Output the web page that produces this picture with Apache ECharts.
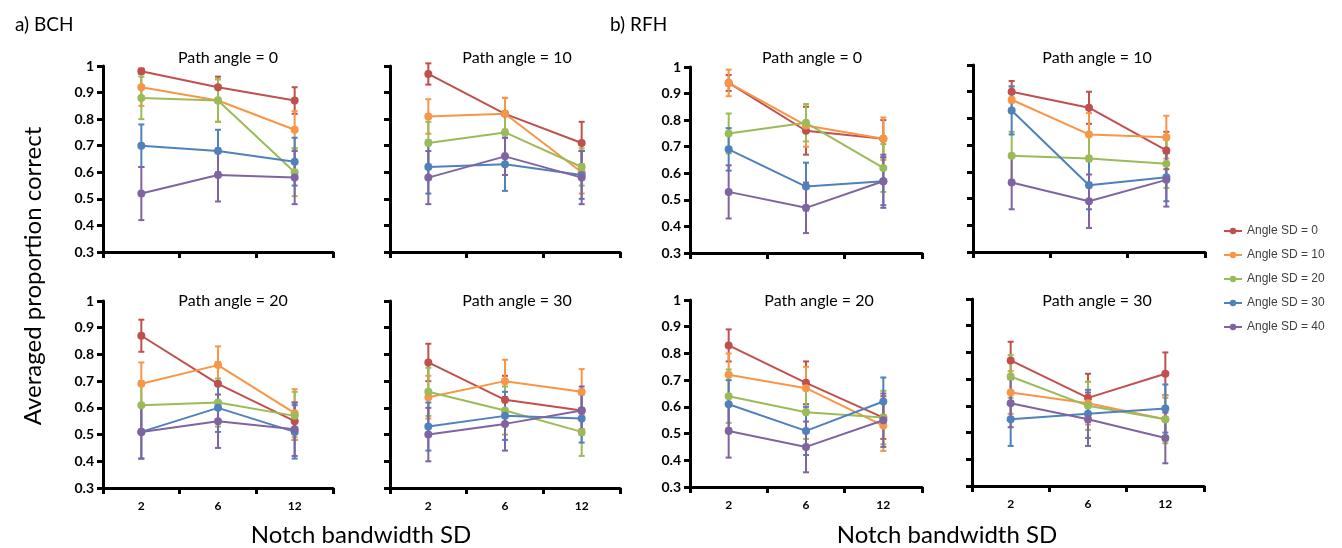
<!DOCTYPE html>
<html>
<head>
<meta charset="utf-8">
<title>Averaged proportion correct</title>
<script src="https://cdn.jsdelivr.net/npm/echarts@6/dist/echarts.min.js"></script>
<style>
  html, body { margin: 0; padding: 0; background: #fff; }
  #chart { width: 1342px; height: 548px; }
</style>
</head>
<body>
<div id="chart"></div>
<script>
// notch bandwidth SD categories and series
const xCats = ['2', '6', '12'];
const seriesNames = ['Angle SD = 0', 'Angle SD = 10', 'Angle SD = 20', 'Angle SD = 30', 'Angle SD = 40'];
const colors = ['#C0504D', '#F79646', '#9BBB59', '#4F81BD', '#8064A2'];

// BCH, path angle = 0 / 10 / 20 / 30  (one row per Angle SD)
const bch0Mean = [[0.98, 0.92, 0.87], [0.92, 0.87, 0.76], [0.88, 0.87, 0.60], [0.70, 0.68, 0.64], [0.52, 0.59, 0.58]];
const bch0Err = [[0.01, 0.04, 0.05], [0.07, 0.08, 0.07], [0.08, 0.08, 0.09], [0.08, 0.08, 0.09], [0.10, 0.10, 0.10]];
const bch10Mean = [[0.97, 0.82, 0.71], [0.81, 0.82, 0.60], [0.71, 0.75, 0.62], [0.62, 0.63, 0.59], [0.58, 0.66, 0.58]];
const bch10Err = [[0.04, 0.06, 0.08], [0.065, 0.06, 0.08], [0.08, 0.08, 0.07], [0.10, 0.10, 0.09], [0.10, 0.07, 0.10]];
const bch20Mean = [[0.87, 0.69, 0.55], [0.69, 0.76, 0.58], [0.61, 0.62, 0.57], [0.51, 0.60, 0.51], [0.51, 0.55, 0.52]];
const bch20Err = [[0.06, 0.08, 0.07], [0.08, 0.07, 0.09], [0.09, 0.09, 0.09], [0.10, 0.09, 0.10], [0.10, 0.10, 0.10]];
const bch30Mean = [[0.77, 0.63, 0.59], [0.64, 0.70, 0.66], [0.66, 0.59, 0.51], [0.53, 0.57, 0.56], [0.50, 0.54, 0.59]];
const bch30Err = [[0.07, 0.09, 0.07], [0.08, 0.08, 0.085], [0.09, 0.09, 0.09], [0.09, 0.09, 0.09], [0.10, 0.10, 0.09]];

// RFH, path angle = 0 / 10 / 20 / 30
const rfh0Mean = [[0.94, 0.76, 0.73], [0.94, 0.78, 0.73], [0.75, 0.79, 0.62], [0.69, 0.55, 0.57], [0.53, 0.47, 0.57]];
const rfh0Err = [[0.03, 0.09, 0.07], [0.05, 0.08, 0.08], [0.075, 0.07, 0.09], [0.08, 0.09, 0.09], [0.10, 0.095, 0.10]];
const rfh10Mean = [[0.90, 0.84, 0.68], [0.87, 0.74, 0.73], [0.66, 0.65, 0.63], [0.83, 0.55, 0.58], [0.56, 0.49, 0.57]];
const rfh10Err = [[0.04, 0.06, 0.07], [0.05, 0.08, 0.08], [0.09, 0.09, 0.09], [0.09, 0.09, 0.09], [0.10, 0.10, 0.10]];
const rfh20Mean = [[0.83, 0.69, 0.56], [0.72, 0.67, 0.53], [0.64, 0.58, 0.56], [0.61, 0.51, 0.62], [0.51, 0.45, 0.55]];
const rfh20Err = [[0.06, 0.08, 0.08], [0.08, 0.08, 0.095], [0.10, 0.10, 0.10], [0.09, 0.09, 0.09], [0.10, 0.095, 0.10]];
const rfh30Mean = [[0.77, 0.63, 0.72], [0.65, 0.61, 0.55], [0.71, 0.60, 0.55], [0.55, 0.57, 0.59], [0.61, 0.55, 0.48]];
const rfh30Err = [[0.07, 0.09, 0.08], [0.08, 0.08, 0.08], [0.08, 0.09, 0.09], [0.10, 0.09, 0.09], [0.09, 0.10, 0.095]];

const panelTitles = ['Path angle = 0', 'Path angle = 10', 'Path angle = 20', 'Path angle = 30',
                     'Path angle = 0', 'Path angle = 10', 'Path angle = 20', 'Path angle = 30'];

const panels = [
  { mean: bch0Mean, err: bch0Err, grid: { left: 103, top: 66, width: 230, height: 186 }, titleX: 223, titleY: 45, yLabels: true, xLabels: false },
  { mean: bch10Mean, err: bch10Err, grid: { left: 390, top: 66, width: 230, height: 186 }, titleX: 512, titleY: 45, yLabels: false, xLabels: false },
  { mean: bch20Mean, err: bch20Err, grid: { left: 103, top: 301, width: 230, height: 187 }, titleX: 228, titleY: 288, yLabels: true, xLabels: true },
  { mean: bch30Mean, err: bch30Err, grid: { left: 390, top: 301, width: 230, height: 187 }, titleX: 512, titleY: 288, yLabels: false, xLabels: true },
  { mean: rfh0Mean, err: rfh0Err, grid: { left: 690, top: 67, width: 232, height: 186 }, titleX: 807, titleY: 45, yLabels: true, xLabels: false },
  { mean: rfh10Mean, err: rfh10Err, grid: { left: 973, top: 65, width: 232, height: 187 }, titleX: 1092, titleY: 45, yLabels: false, xLabels: false },
  { mean: rfh20Mean, err: rfh20Err, grid: { left: 690, top: 300, width: 232, height: 187 }, titleX: 814, titleY: 288, yLabels: true, xLabels: true },
  { mean: rfh30Mean, err: rfh30Err, grid: { left: 972, top: 299, width: 232, height: 187 }, titleX: 1092, titleY: 288, yLabels: false, xLabels: true }
];

const chart = echarts.init(document.getElementById('chart'));

// vertical error bar with small caps
function renderErrorBar(params, api) {
  const x = api.value(0);
  const lo = api.coord([x, api.value(1)]);
  const hi = api.coord([x, api.value(2)]);
  const cap = 3;
  const style = { stroke: api.visual('color'), lineWidth: 2 };
  return {
    type: 'group',
    children: [
      { type: 'line', shape: { x1: hi[0], y1: hi[1], x2: lo[0], y2: lo[1] }, style: style },
      { type: 'line', shape: { x1: hi[0] - cap, y1: hi[1], x2: hi[0] + cap, y2: hi[1] }, style: style },
      { type: 'line', shape: { x1: lo[0] - cap, y1: lo[1], x2: lo[0] + cap, y2: lo[1] }, style: style }
    ]
  };
}

const grids = [], xAxes = [], yAxes = [], series = [];
const titles = [
  { text: 'a) BCH', left: 10, top: 10, textStyle: { fontFamily: 'Lato', fontSize: 19, fontWeight: 'normal', color: '#000' } },
  { text: 'b) RFH', left: 605, top: 10, textStyle: { fontFamily: 'Lato', fontSize: 19, fontWeight: 'normal', color: '#000' } }
];

panels.forEach((p, gi) => {
  grids.push(p.grid);
  titles.push({
    text: panelTitles[gi], left: p.titleX, top: p.titleY, textAlign: 'center',
    textStyle: { fontFamily: 'Lato', fontSize: 16, fontWeight: 'normal', color: '#000' }
  });
  xAxes.push({
    type: 'category', gridIndex: gi, data: xCats, boundaryGap: true,
    axisLine: { lineStyle: { color: '#000', width: 3 } },
    axisTick: { show: true, length: 6, lineStyle: { color: '#000', width: 3 } },
    axisLabel: { show: p.xLabels, margin: 12, fontFamily: 'Lato', fontWeight: 'bold', fontSize: 12, color: '#000' },
    splitLine: { show: false }
  });
  yAxes.push({
    type: 'value', gridIndex: gi, min: 0.3, max: 1, interval: 0.1,
    axisLine: { show: true, lineStyle: { color: '#000', width: 3 } },
    axisTick: { show: true, length: 6, lineStyle: { color: '#000', width: 3 } },
    axisLabel: {
      show: p.yLabels, margin: 9, fontFamily: 'Lato', fontWeight: 'bold', fontSize: 14, color: '#000',
      formatter: v => String(+v.toFixed(1))
    },
    splitLine: { show: false }
  });
  seriesNames.forEach((name, si) => {
    series.push({
      name: 'err ' + name, type: 'custom', xAxisIndex: gi, yAxisIndex: gi,
      renderItem: renderErrorBar, itemStyle: { color: colors[si] }, z: 2,
      encode: { x: 0, y: [1, 2] },
      data: p.mean[si].map((m, k) => [k, m - p.err[si][k], m + p.err[si][k]]),
      silent: true
    });
  });
  seriesNames.forEach((name, si) => {
    series.push({
      name: name, type: 'line', xAxisIndex: gi, yAxisIndex: gi,
      data: p.mean[si], symbol: 'circle', symbolSize: 8, z: 3,
      itemStyle: { color: colors[si] },
      lineStyle: { color: colors[si], width: 2 }
    });
  });
});

chart.setOption({
  animation: false,
  backgroundColor: '#fff',
  title: titles,
  grid: grids,
  xAxis: xAxes,
  yAxis: yAxes,
  legend: {
    data: seriesNames,
    orient: 'vertical', left: 1218, top: 220,
    itemWidth: 18, itemHeight: 8, itemGap: 12,
    textStyle: { fontFamily: 'Liberation Sans', fontSize: 12, color: '#404040' }
  },
  graphic: [
    {
      type: 'text', x: 33, y: 276, rotation: Math.PI / 2,
      style: { text: 'Averaged proportion correct', font: '24px Lato', fill: '#000', align: 'center', verticalAlign: 'middle' }
    },
    {
      type: 'text', x: 361, y: 535,
      style: { text: 'Notch bandwidth SD', font: '24px Lato', fill: '#000', align: 'center', verticalAlign: 'middle' }
    },
    {
      type: 'text', x: 947, y: 535,
      style: { text: 'Notch bandwidth SD', font: '24px Lato', fill: '#000', align: 'center', verticalAlign: 'middle' }
    }
  ],
  series: series
});

window.addEventListener('resize', function () {
  chart.resize();
});
</script>
</body>
</html>
